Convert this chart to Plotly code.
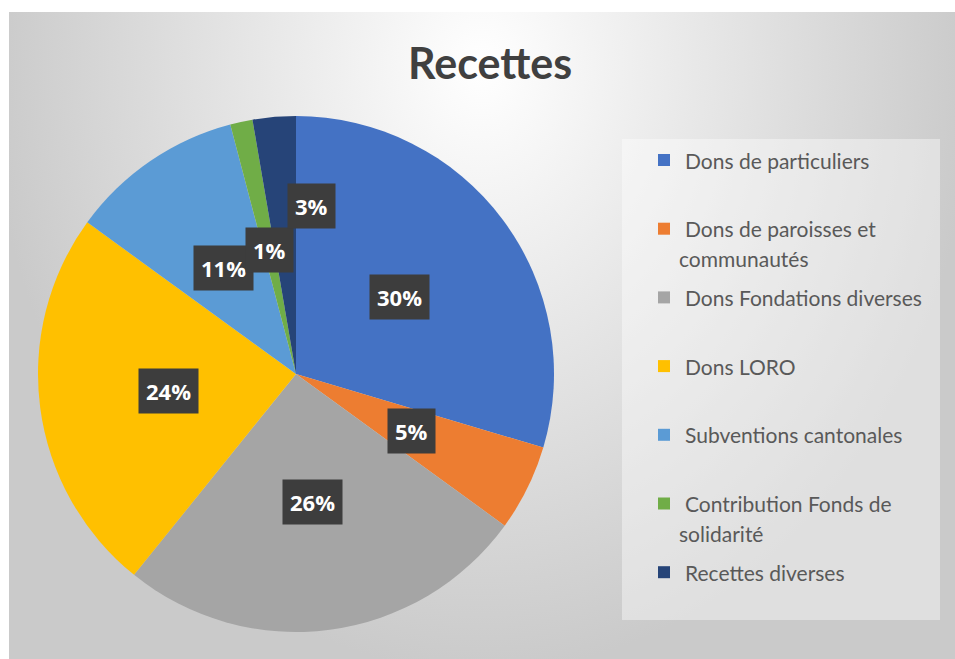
import math
import textwrap
import plotly.graph_objects as go

# data
categories = [
    "Dons de particuliers",
    "Dons de paroisses et communautés",
    "Dons Fondations diverses",
    "Dons LORO",
    "Subventions cantonales",
    "Contribution Fonds de solidarité",
    "Recettes diverses",
]
shares = [29.6, 5.4, 25.8, 24.2, 10.9, 1.4, 2.7]
colors = ["#4472C4", "#ED7D31", "#A5A5A5", "#FFC000", "#5B9BD5", "#70AD47", "#264478"]

# layout geometry in pixels (body margin removed in post_script)
W, H = 955, 659
ML, MT = 9, 12
PW, PH = W - ML, H - MT
CX, CY, R = 296, 374, 258


def to_paper(x, y):
    return (x - ML) / PW, 1 - (y - MT) / PH


fig = go.Figure()

# radial grey background, centred near the top of the chart
gy = 0.926
fig.add_trace(go.Scatter(
    x=[-0.02, 1.02, 1.02, -0.02, -0.02], y=[-0.02, -0.02, 2 * gy, 2 * gy, -0.02],
    mode="lines", line=dict(width=0), fill="toself",
    fillgradient=dict(type="radial", colorscale=[[0, "#ffffff"], [1, "#cacaca"]]),
    hoverinfo="skip", showlegend=False,
))

x0, y1 = to_paper(CX - R, CY - R)
x1, y0 = to_paper(CX + R, CY + R)
fig.add_trace(go.Pie(
    labels=categories, values=shares, sort=False, direction="clockwise", rotation=0,
    marker=dict(colors=colors, line=dict(width=0)),
    textinfo="none", hoverinfo="label+percent", showlegend=False,
    domain=dict(x=[x0, x1], y=[y0, y1]),
))

annotations = []
shapes = []

# white page border on the left and top of the chart area
shapes.append(dict(type="rect", xref="paper", yref="paper", x0=-ML / PW, x1=0, y0=-0.1, y1=1 + MT / PH,
                   fillcolor="white", line=dict(width=0), layer="below"))
shapes.append(dict(type="rect", xref="paper", yref="paper", x0=-ML / PW, x1=1.1, y0=1, y1=1 + MT / PH,
                   fillcolor="white", line=dict(width=0), layer="below"))

# data labels (dark boxes)
total = sum(shares)
label_r = [0.5, 0.5, 0.5, 0.5, 0.5, 0.49, 0.655]
label_shift = [0, 0, 0, 0, 0, 0, 10]
cum = 0
for v, rf, sh in zip(shares, label_r, label_shift):
    mid = (cum + v / 2) / total
    cum += v
    a = mid * 2 * math.pi + math.radians(sh)
    lx, ly = to_paper(CX + rf * R * math.sin(a), CY - rf * R * math.cos(a))
    annotations.append(dict(
        x=lx, y=ly, xref="paper", yref="paper", text=f"{round(v / total * 100)}%",
        xanchor="center", yanchor="middle",
        showarrow=False, bgcolor="#3d3d3d", borderpad=7,
        font=dict(family="Open Sans", size=22, color="white", weight="bold"),
    ))

# legend box
bx0, by0 = to_paper(622, 139)
bx1, by1 = to_paper(940, 620)
shapes.append(dict(type="rect", xref="paper", yref="paper", x0=bx0, x1=bx1, y0=by1, y1=by0,
                   fillcolor="rgba(255,255,255,0.4)", line=dict(width=0), layer="above"))

for i, (name, c) in enumerate(zip(categories, colors)):
    ty = 160 + i * 68.7
    sx0, sy0 = to_paper(658, ty - 6)
    sx1, sy1 = to_paper(670, ty + 6)
    shapes.append(dict(type="rect", xref="paper", yref="paper", x0=sx0, x1=sx1, y0=sy1, y1=sy0,
                       fillcolor=c, line=dict(width=0), layer="above"))
    for j, line in enumerate(textwrap.wrap(name, 24)):
        tx, tyy = to_paper(683 if j == 0 else 677, ty + 30 * j)
        annotations.append(dict(
            x=tx, y=tyy, xref="paper", yref="paper", text=line, showarrow=False,
            xanchor="left", yanchor="middle",
            font=dict(family="Lato", size=21, color="#595959"),
        ))

tx, tyy = to_paper(490, 63)
annotations.append(dict(
    x=tx, y=tyy, xref="paper", yref="paper", text="Recettes", showarrow=False,
    xanchor="center", yanchor="middle",
    font=dict(family="Lato", size=43, color="#404040", weight="bold"),
))

fig.update_layout(
    width=W, height=H,
    margin=dict(l=ML, t=MT, r=0, b=0),
    paper_bgcolor="#cbcbcb", plot_bgcolor="rgba(0,0,0,0)",
    xaxis=dict(range=[0, 1], visible=False, fixedrange=True),
    yaxis=dict(range=[0, 1], visible=False, fixedrange=True),
    annotations=annotations, shapes=shapes, showlegend=False,
)

fig.write_html(
    "out.html", config={"displayModeBar": False},
    post_script="document.body.style.margin='0'; document.documentElement.style.overflow='hidden';",
)
